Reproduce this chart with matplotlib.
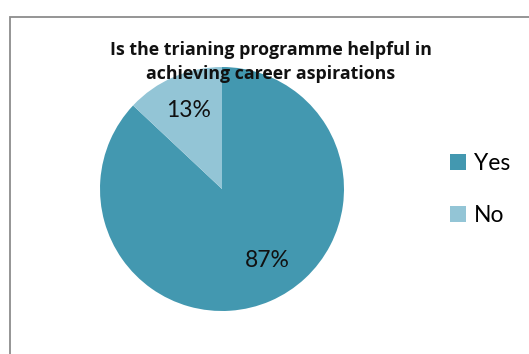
import matplotlib
matplotlib.use("Agg")
import matplotlib.pyplot as plt
from matplotlib.patches import Rectangle

categories = ["Yes", "No"]
values = [87, 13]
colors = ["#4398B0", "#93C5D6"]
title = "Is the trianing programme helpful in\nachieving career aspirations"

W, H = 529, 354
fig = plt.figure(figsize=(W / 100, H / 100), dpi=100)
plt.rcParams['font.family'] = ['Lato', 'DejaVu Sans']

# chart border (left & top visible)
fig.patches.append(Rectangle((9.5 / W, -0.1), 1.2, (H - 16.5) / H + 0.1,
                             transform=fig.transFigure, fill=False,
                             edgecolor="#8c8c8c", linewidth=1.3))

cx, cy, r = 222, 189, 122
ax = fig.add_axes([(cx - r) / W, (H - cy - r) / H, 2 * r / W, 2 * r / H])
wedges, texts, autotexts = ax.pie(values, colors=colors, startangle=90,
                                  counterclock=False, autopct="%d%%",
                                  pctdistance=0.7,
                                  wedgeprops=dict(linewidth=0),
                                  textprops=dict(fontsize=16.5, color="#111111"))
ax.set_xlim(-1, 1)
ax.set_ylim(-1, 1)
ax.set_aspect("equal")
autotexts[0].set_position((0.37, -0.59))

fig.text(271 / W, 1 - 62 / H, title, ha="center", va="center",
         fontsize=12.8, fontweight="bold", linespacing=1.45, color="#111111",
         family=["Open Sans", "DejaVu Sans"])

fig.legend(wedges, categories, loc="center left",
           bbox_to_anchor=(429 / W, 1 - 189.5 / H), frameon=False,
           fontsize=16.5, handlelength=0.7, handleheight=0.7,
           handletextpad=0.35, labelspacing=1.35)

fig.savefig("out.png", dpi=100)
